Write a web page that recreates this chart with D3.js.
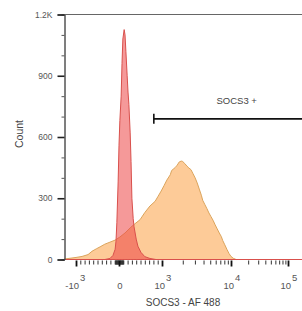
<!DOCTYPE html>
<html><head><meta charset="utf-8">
<script src="https://cdn.jsdelivr.net/npm/d3@7"></script>
<style>html,body{margin:0;padding:0;background:#fff;}svg{display:block;font-family:"Liberation Sans",Arial,sans-serif;}</style>
</head><body>
<svg id="c" width="302" height="311"></svg>
<script>
// ---- data (x in display units: -1 = -10^3, 0 = 0, 1 = 10^3, 2 = 10^4, 3 = 10^5) ----
const xMajorLabels = [{t:-1, base:"-10", sup:"3"}, {t:0, base:"0", sup:""}, {t:1, base:"10", sup:"3"}, {t:2, base:"10", sup:"4"}, {t:3, base:"10", sup:"5"}];
const yTicks = [0, 300, 600, 900, 1200];
const yMinor = [100, 200, 400, 500, 700, 800, 1000, 1100];

const redX = [-1.28,-0.33,-0.21,-0.14,-0.09,-0.07,-0.05,-0.02,0.00,0.02,0.05,0.07,0.09,0.12,0.14,0.16,0.19,0.21,0.23,0.26,0.28,0.30,0.33,0.35,0.40,0.44,0.51,0.60,0.72,0.86,3.3];
const redY = [0,0,5,20,50,90,180,380,560,680,800,960,1080,1126,1100,1020,900,820,760,620,480,300,200,160,100,65,35,14,5,0,0];

const orangeX = [-1.28,-1.14,-1.00,-0.86,-0.72,-0.63,-0.53,-0.44,-0.33,-0.21,-0.09,0.02,0.14,0.26,0.37,0.49,0.60,0.72,0.84,0.91,0.98,1.03,1.07,1.12,1.14,1.19,1.22,1.25,1.28,1.30,1.33,1.36,1.39,1.42,1.45,1.48,1.51,1.54,1.57,1.59,1.62,1.65,1.68,1.71,1.74,1.77,1.80,1.83,1.86,1.88,1.91,1.94,1.97,2.00,2.04,2.09,3.3];
const orangeY = [2,6,10,15,24,40,52,62,75,85,95,110,130,155,175,195,230,262,285,310,335,362,389,415,436,450,462,478,482,480,470,458,448,440,420,400,375,345,315,290,270,250,228,210,192,170,150,130,112,93,72,50,30,15,6,0,0];

const gate = {start: 0.81, end: 3.4, count: 689, label: "SOCS3 +", labelT: 2.1, labelCount: 760};
const xTitle = "SOCS3 - AF 488";
const yTitle = "Count";

// ---- scales ----
const toT = v => { const a = Math.abs(v); return a <= 1000 ? v/1000 : Math.sign(v)*(1+Math.log10(a/1000)); };
const x = d3.scaleLinear().domain([-1,0,1,2,3]).range([76,119,162,231,288]);
const y = d3.scaleLinear().domain([0,1200]).range([259.5,14.5]);

const svg = d3.select("#c");

// minor x ticks
const minorVals = [];
[10,100].forEach(d => { for (let k=1;k<=9;k++){ minorVals.push(k*d); minorVals.push(-k*d);} });
[1000,10000].forEach(d => { for (let k=2;k<=9;k++) minorVals.push(k*d); });
const minorT = minorVals.map(toT).filter(t => t >= -1.28 && t <= 3.3);

// histograms
const area = (xs, ys) => d3.area().x((d,i)=>x(xs[i])).y0(y(0)).y1((d,i)=>y(ys[i]))(xs);
svg.append("path").attr("d", area(orangeX, orangeY)).attr("fill","#fdcb98").attr("stroke","#dba45c").attr("stroke-width",1);
svg.append("path").attr("d", area(redX, redY)).attr("fill","rgba(236,70,70,0.55)").attr("stroke","#d9504c").attr("stroke-width",1);

// frame top
svg.append("line").attr("x1",64.5).attr("x2",310).attr("y1",y(1200)).attr("y2",y(1200)).attr("stroke","#666").attr("stroke-width",1);

// y axis
const gy = svg.append("g").attr("transform","translate(64.5,0)");
gy.call(d3.axisLeft(y).tickValues(yMinor).tickSize(3).tickFormat(""));
gy.call(g => g.selectAll(".tick line").attr("stroke","#555"));
const gy2 = svg.append("g").attr("transform","translate(64.5,0)");
gy2.call(d3.axisLeft(y).tickValues(yTicks).tickSize(7).tickPadding(5).tickFormat(d => d===1200 ? "1.2K" : d));
gy2.selectAll(".tick line").attr("stroke","#222").attr("stroke-width",1.6);
gy2.selectAll("text").attr("font-size",8.5).attr("fill","#555").attr("font-family","Liberation Sans, Arial, sans-serif");
svg.selectAll(".domain").attr("stroke","#555");

// x axis
const gx = svg.append("g").attr("transform","translate(0,260.5)");
gx.call(d3.axisBottom(x).tickValues(minorT).tickSize(4).tickFormat(""));
gx.select(".domain").remove();
gx.selectAll(".tick line").attr("stroke","#333");
const gx2 = svg.append("g").attr("transform","translate(0,260.5)");
gx2.call(d3.axisBottom(x).tickValues(xMajorLabels.map(d=>d.t)).tickSize(6).tickFormat(""));
gx2.select(".domain").remove();
gx2.selectAll(".tick line").attr("stroke","#111").attr("stroke-width",1.8);

// x tick labels with superscripts
xMajorLabels.forEach(d => {
  const cx = x(d.t) + 1;
  if (d.sup) {
    svg.append("text").attr("x", cx + 2).attr("y", 289).attr("text-anchor","end")
      .attr("font-size",9.5).attr("fill","#555").text(d.base);
    svg.append("text").attr("x", cx + 3).attr("y", 281).attr("text-anchor","start")
      .attr("font-size",9.5).attr("fill","#555").text(d.sup);
  } else {
    svg.append("text").attr("x", cx).attr("y", 289).attr("text-anchor","middle")
      .attr("font-size",9.5).attr("fill","#555").text(d.base);
  }
});

// gate
svg.append("line").attr("x1",x(gate.start)).attr("x2",x(gate.end)).attr("y1",y(gate.count)).attr("y2",y(gate.count)).attr("stroke","#111").attr("stroke-width",1.6);
svg.append("line").attr("x1",x(gate.start)).attr("x2",x(gate.start)).attr("y1",y(gate.count)-5).attr("y2",y(gate.count)+5).attr("stroke","#111").attr("stroke-width",1.6);
svg.append("text").attr("x",x(gate.labelT)).attr("y",y(gate.labelCount)).attr("text-anchor","middle").attr("font-size",9.5).attr("fill","#444").text(gate.label);

// titles
svg.append("text").attr("x",183).attr("y",306).attr("text-anchor","middle").attr("font-size",10).attr("fill","#444").text(xTitle);
svg.append("text").attr("transform","translate(23,134) rotate(-90)").attr("text-anchor","middle").attr("font-size",10.5).attr("fill","#444").text(yTitle);
</script>
</body></html>
